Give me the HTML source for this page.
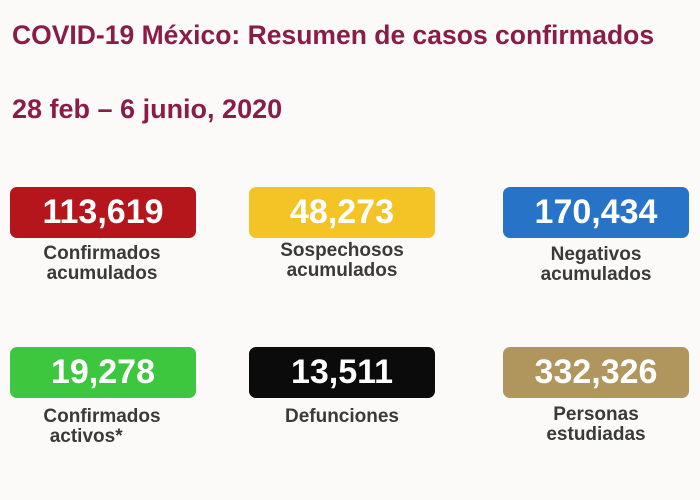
<!DOCTYPE html>
<html><head><meta charset="utf-8"><style>
body{margin:0;width:700px;height:500px;background:#fbfaf8;font-family:"Liberation Sans",sans-serif;position:relative;overflow:hidden}
.t{position:absolute;left:12px;color:#8a1d47;font-weight:bold;white-space:nowrap}
.b{position:absolute;width:186px;height:51px;border-radius:7px;color:#fff;font-weight:bold;font-size:34px;text-align:center;line-height:51px}
.l{position:absolute;width:220px;text-align:center;color:#3a3a3a;font-weight:bold;font-size:19px;line-height:20px}
</style></head><body>
<div class="t" style="top:20px;font-size:26.5px">COVID-19 México: Resumen de casos confirmados</div>
<div class="t" style="top:94px;font-size:27px">28 feb – 6 junio, 2020</div>
<div class="b" style="left:10px;top:187px;background:#b5161b">113,619</div>
<div class="b" style="left:249px;top:187px;background:#f4c326">48,273</div>
<div class="b" style="left:503px;top:187px;background:#2673c8">170,434</div>
<div class="l" style="left:-8px;top:244px">Confirmados<br>acumulados</div>
<div class="l" style="left:232px;top:241px">Sospechosos<br>acumulados</div>
<div class="l" style="left:486px;top:245px">Negativos<br>acumulados</div>
<div class="b" style="left:10px;top:347px;background:#3dc73f">19,278</div>
<div class="b" style="left:249px;top:347px;background:#0b0b0b">13,511</div>
<div class="b" style="left:503px;top:347px;background:#b0955c">332,326</div>
<div class="l" style="left:-8px;top:407px">Confirmados<br>&nbsp;activos*&nbsp;&nbsp;&nbsp;&nbsp;&nbsp;&nbsp;&nbsp;</div>
<div class="l" style="left:232px;top:407px">Defunciones</div>
<div class="l" style="left:486px;top:405px">Personas<br>estudiadas</div>
</body></html>
